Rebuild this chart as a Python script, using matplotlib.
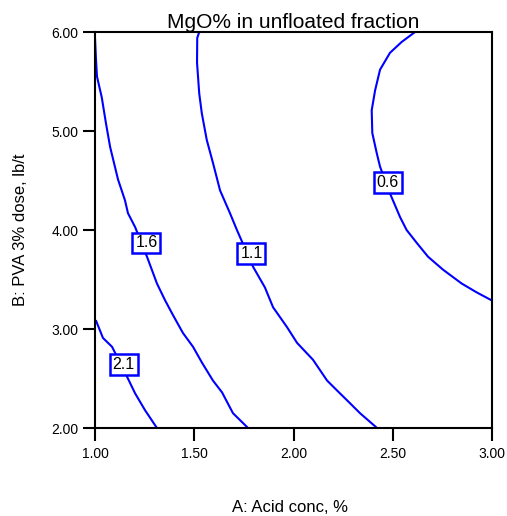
import matplotlib
matplotlib.use("Agg")
import matplotlib.pyplot as plt

plt.rcParams["font.family"] = ["Liberation Sans", "DejaVu Sans"]

# Contour traces of MgO% in the unfloated fraction (A: acid conc, B: PVA dose)
level_06_a = [2.612, 2.545, 2.486, 2.436, 2.411, 2.394, 2.397, 2.419, 2.436, 2.486,
              2.537, 2.570, 2.621, 2.678, 2.753, 2.847, 2.923, 2.998]
level_06_b = [6.00, 5.90, 5.79, 5.62, 5.41, 5.21, 4.98, 4.78, 4.64, 4.37,
              4.13, 4.00, 3.87, 3.73, 3.60, 3.46, 3.37, 3.29]

level_11_a = [1.525, 1.515, 1.514, 1.525, 1.538, 1.563, 1.594, 1.630, 1.680, 1.715,
              1.796, 1.856, 1.897, 1.967, 2.018, 2.098, 2.169, 2.219, 2.285, 2.335, 2.421]
level_11_b = [6.00, 5.94, 5.69, 5.38, 5.18, 4.91, 4.68, 4.40, 4.17, 4.00,
              3.63, 3.42, 3.22, 3.02, 2.86, 2.69, 2.48, 2.38, 2.25, 2.15, 2.00]

level_16_a = [1.000, 1.005, 1.010, 1.034, 1.055, 1.076, 1.116, 1.151, 1.166, 1.202,
              1.262, 1.312, 1.353, 1.393, 1.443, 1.494, 1.539, 1.594, 1.640, 1.695, 1.771]
level_16_b = [5.94, 5.72, 5.55, 5.34, 5.08, 4.84, 4.51, 4.30, 4.17, 4.03,
              3.73, 3.46, 3.29, 3.14, 2.96, 2.82, 2.66, 2.48, 2.36, 2.15, 2.00]

level_21_a = [1.004, 1.040, 1.086, 1.161, 1.202, 1.252, 1.312]
level_21_b = [3.09, 2.91, 2.82, 2.52, 2.35, 2.18, 2.00]

levels = ["0.6", "1.1", "1.6", "2.1"]
label_a = [2.476, 1.788, 1.259, 1.144]
label_b = [4.48, 3.76, 3.87, 2.64]

x_ticks = [1.00, 1.50, 2.00, 2.50, 3.00]
y_ticks = [2.00, 3.00, 4.00, 5.00, 6.00]

fig = plt.figure(figsize=(5.07, 5.16), dpi=100)
ax = fig.add_axes([0.1874, 0.1705, 0.783, 0.7674])

traces = [(level_06_a, level_06_b), (level_11_a, level_11_b),
          (level_16_a, level_16_b), (level_21_a, level_21_b)]
for a, b in traces:
    ax.plot(a, b, color="#0000ff", lw=1.5, solid_capstyle="butt", zorder=2)

for txt, a, b in zip(levels, label_a, label_b):
    ax.text(a, b, txt, ha="center", va="center", fontsize=11.5, color="black", zorder=4,
            bbox=dict(boxstyle="square,pad=0.18", fc="white", ec="#0000ff", lw=1.8))

ax.set_xlim(1.0, 3.0)
ax.set_ylim(2.0, 6.0)
ax.set_xticks(x_ticks)
ax.set_yticks(y_ticks)
ax.set_xticklabels([f"{v:.2f}" for v in x_ticks])
ax.set_yticklabels([f"{v:.2f}" for v in y_ticks])
ax.tick_params(direction="out", length=9, width=1.5, labelsize=10, colors="black")
ax.tick_params(axis="x", pad=5)
ax.tick_params(axis="y", pad=3)
for s in ax.spines.values():
    s.set_linewidth(1.5)
    s.set_color("black")

ax.set_title("MgO% in unfloated fraction", fontsize=15, pad=3)
ax.set_xlabel("A: Acid conc, %", fontsize=12)
ax.set_ylabel("B: PVA 3% dose, lb/t", fontsize=12)
ax.xaxis.set_label_coords(0.49, -0.182)
ax.yaxis.set_label_coords(-0.168, 0.5)

fig.savefig("out.png", dpi=100)
